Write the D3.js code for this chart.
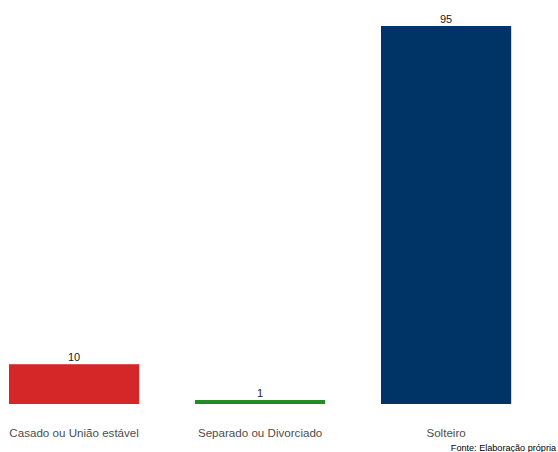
<!DOCTYPE html>
<html>
<head>
<meta charset="utf-8">
<script src="https://cdn.jsdelivr.net/npm/d3@7"></script>
<style>
html,body{margin:0;padding:0;background:#fff;}
svg{display:block;font-family:"Liberation Sans",Arial,sans-serif;}
</style>
</head>
<body>
<svg id="chart" width="558" height="452"></svg>
<script>
const categories = ["Casado ou União estável", "Separado ou Divorciado", "Solteiro"];
const values = [10, 1, 95];
const colors = ["#D62728", "#238B23", "#003366"];
const caption = "Fonte: Elaboração própria";

const svg = d3.select("#chart");
const x = d3.scaleBand().domain(categories).range([9, 511.2]).paddingInner(0.3).paddingOuter(0);
const y = d3.scaleLinear().domain([0, 95]).range([404, 26]);

svg.selectAll("rect.bar").data(categories).enter().append("rect")
  .attr("class", "bar")
  .attr("x", d => x(d))
  .attr("width", x.bandwidth())
  .attr("y", (d, i) => y(values[i]))
  .attr("height", (d, i) => y(0) - y(values[i]))
  .attr("fill", (d, i) => colors[i]);

svg.selectAll("text.val").data(categories).enter().append("text")
  .attr("class", "val")
  .attr("x", d => x(d) + x.bandwidth() / 2)
  .attr("y", (d, i) => y(values[i]) - 3)
  .attr("text-anchor", "middle")
  .attr("font-size", "11px")
  .attr("fill", "#1a1a1a")
  .text((d, i) => values[i]);

const xAxis = d3.axisBottom(x).tickSize(0).tickPadding(0);
const gx = svg.append("g").attr("transform", "translate(0,429)").call(xAxis);
gx.select(".domain").remove();
gx.selectAll("text")
  .attr("font-size", "11.6px")
  .attr("font-family", "Liberation Sans, Arial, sans-serif")
  .attr("fill", "#4D4D4D");

svg.append("text")
  .attr("x", 556)
  .attr("y", 451)
  .attr("text-anchor", "end")
  .attr("font-size", "9.1px")
  .attr("fill", "#000")
  .text(caption);
</script>
</body>
</html>
